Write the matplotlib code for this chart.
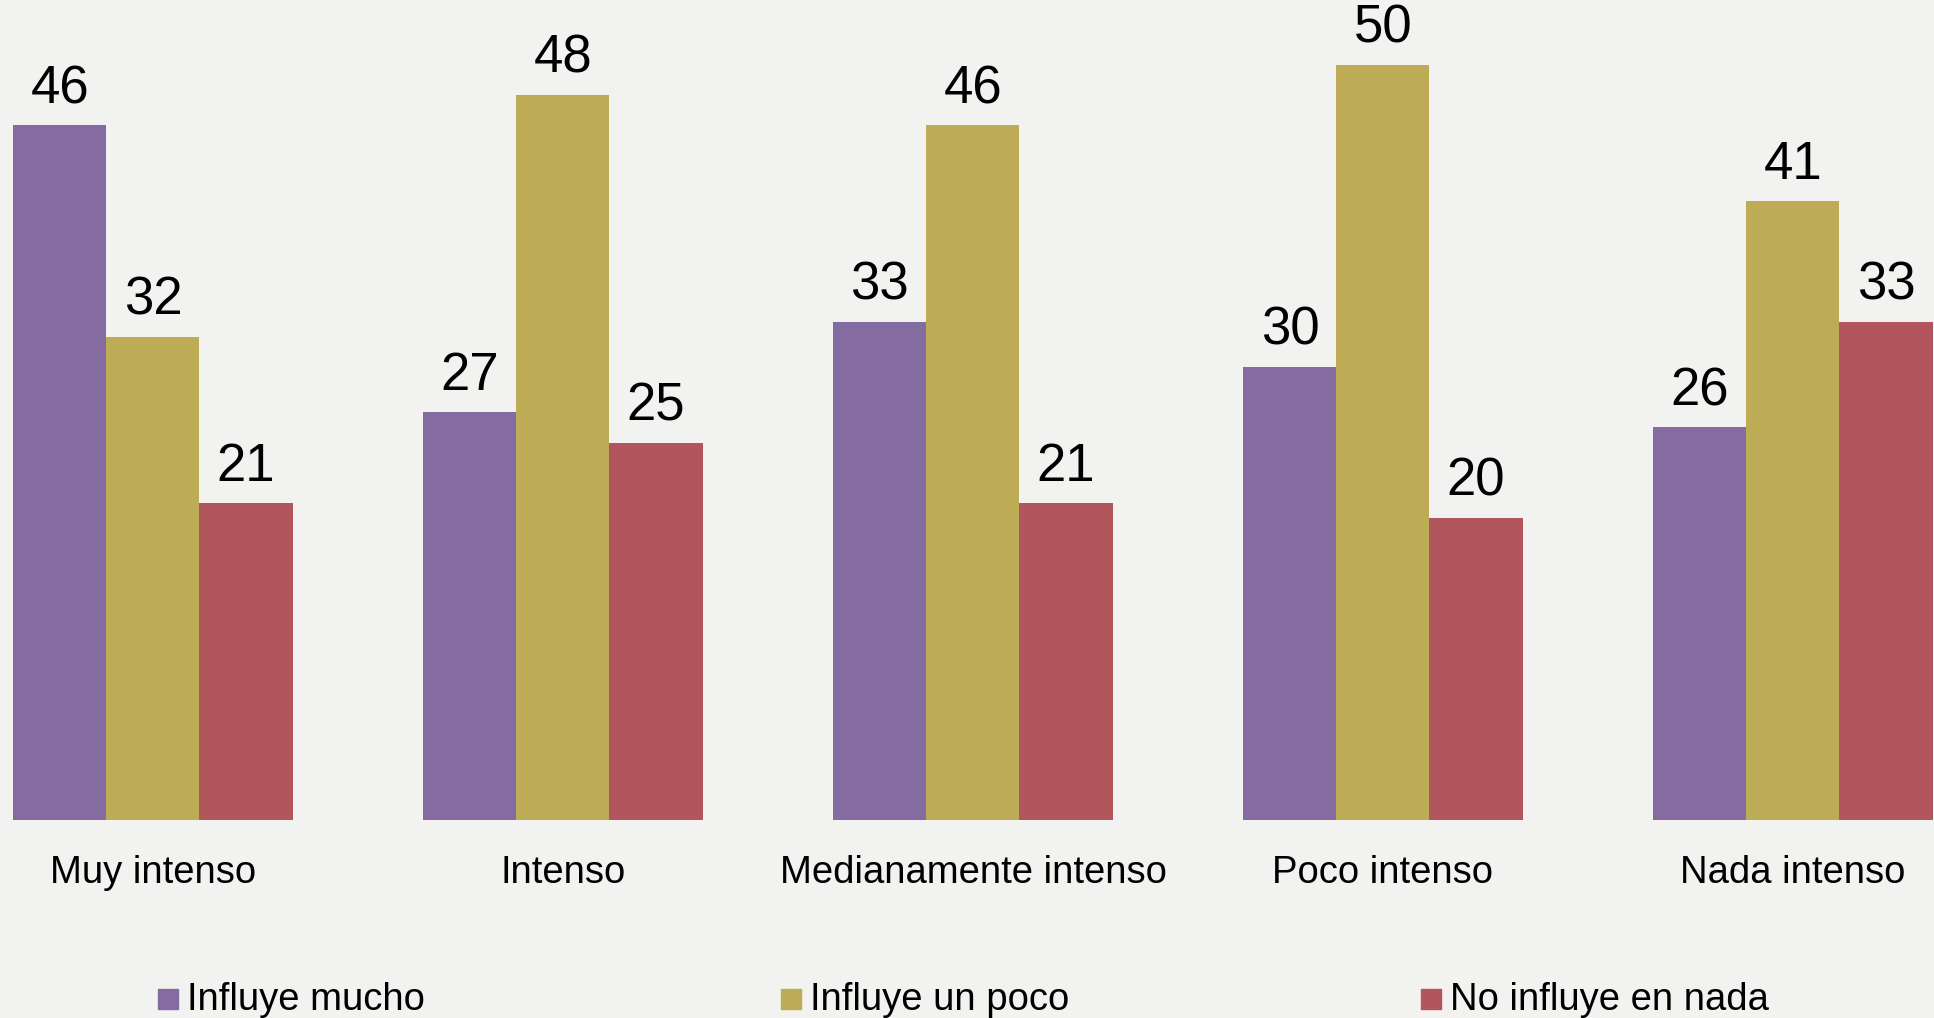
import matplotlib
matplotlib.use('Agg')
from matplotlib import pyplot as plt
from matplotlib.patches import Rectangle
import numpy as np

# Chart data
categories = ['Muy intenso', 'Intenso', 'Medianamente intenso', 'Poco intenso', 'Nada intenso']
series_names = ['Influye mucho', 'Influye un poco', 'No influye en nada']
influye_mucho = [46, 27, 33, 30, 26]
influye_poco = [32, 48, 46, 50, 41]
no_influye = [21, 25, 21, 20, 33]

colors = ['#846CA0', '#BEAB56', '#B0565C']
bg = '#F2F2F0'
lab_font = ['Liberation Sans', 'DejaVu Sans']

fig = plt.figure(figsize=(19.34, 10.18), dpi=100, facecolor=bg)
ax = fig.add_axes([0, 1 - 820 / 1018, 1, 820 / 1018])
ax.set_facecolor(bg)

x = np.arange(len(categories))
w = 0.227
for i, vals in enumerate([influye_mucho, influye_poco, no_influye]):
  pos = x + (i - 1) * w
  bars = ax.bar(pos, vals, w, color=colors[i], linewidth=0)
  for xp, v in zip(pos, vals):
    ax.text(xp, v + 0.75, str(v), ha='center', va='bottom', fontsize=38,
            family=lab_font, color='black')

ax.set_xlim(-0.373, 4.344)
ax.set_ylim(0, 820 / 15.1)
ax.set_xticks(x)
ax.set_xticklabels(categories, fontsize=27.5, family=lab_font)
ax.tick_params(axis='x', length=0, pad=25)
ax.set_yticks([])
for s in ax.spines.values():
  s.set_visible(False)

# Legend drawn by hand to match positions
leg_x = [158, 781, 1421]
for name, c, lx in zip(series_names, colors, leg_x):
  fig.patches.append(Rectangle((lx / 1934, 1 - 1009 / 1018), 20 / 1934, 20 / 1018,
                               transform=fig.transFigure, color=c))
  fig.text((lx + 29) / 1934, 1 - 999.5 / 1018, name, fontsize=27.5, family=lab_font,
           va='center', ha='left')

fig.savefig('out.png', facecolor=bg)
